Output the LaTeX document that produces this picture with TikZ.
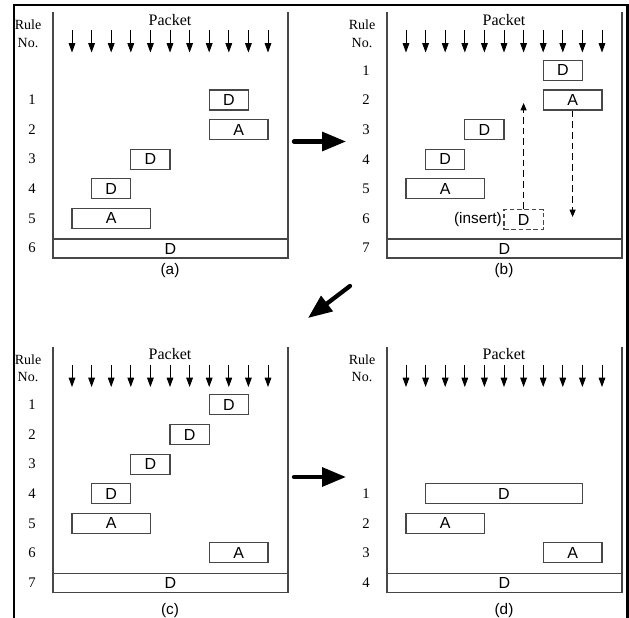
\documentclass[tikz,border=0pt]{standalone}
\usepackage{fontspec}
\setmainfont{Liberation Serif}
\newfontfamily\arialfont{Liberation Sans}
\usetikzlibrary{arrows.meta}

\tikzset{
  frameline/.style={line width=2.2pt, line cap=rect},
  panelline/.style={draw=black!72, line width=0.85pt},
  rbox/.style={draw=black!72, line width=0.85pt, minimum height=15pt, inner sep=0pt,
    font=\arialfont\fontsize{12}{12}\selectfont},
  dashbox/.style={rbox, dashed, dash pattern=on 3.5pt off 2pt},
  deflt/.style={rbox, minimum width=176.25pt, minimum height=14.25pt},
  seriflbl/.style={inner sep=0pt, font=\fontsize{10.5}{11}\selectfont},
  numlbl/.style={inner sep=0pt, font=\fontsize{11}{12}\selectfont},
  packetlbl/.style={inner sep=0pt, font=\fontsize{12}{13}\selectfont},
  captionlbl/.style={inner sep=0pt, font=\arialfont\fontsize{11.5}{12}\selectfont},
  pkarrow/.style={line width=0.6pt, -{Triangle[length=7pt, width=5pt]}},
  dasharrow/.style={line width=0.6pt, dashed, dash pattern=on 5pt off 3pt,
    -{Triangle[length=5.5pt, width=4.5pt]}},
  bigarrow/.style={line width=3.2pt, line cap=round, -{Triangle[length=18pt, width=14pt]}},
}

\newcommand{\panelbase}[4]{% #1 prefix, #2 rows, #3 caption, #4 caption y
  \draw[panelline] (53,12) -- (53,258) -- (288,258) -- (288,12);
  \node[deflt] (#1-def) at (170.5,248.5) {D};
  \node[seriflbl] (#1-rule) at (28,25) {Rule};
  \node[seriflbl] (#1-no) at (28,43) {No.};
  \node[packetlbl] (#1-pk) at (170,20) {Packet};
  \foreach \i in {0,...,10} {
    \coordinate (#1-t\i) at ({72+19.6*\i},30);
    \coordinate (#1-h\i) at ({72+19.6*\i},52.5);
    \draw[pkarrow] (#1-t\i) -- (#1-h\i);
  }
  \foreach \k in {1,...,#2} {
    \node[numlbl] (#1-n\k) at (32,{248-(#2-\k)*29.6}) {\k};
  }
  \node[captionlbl] (#1-cap) at (170,#4) {(#3)};
}
% name, col1, col2, row, rows, letter
\newcommand{\rulebox}[6]{%
  \node[rbox, minimum width={14.7pt*(#3-#2)}] (#1) at ({72+9.8*(#2+#3)},{248-(#5-#4)*29.6}) {#6};}

\begin{document}
\begin{tikzpicture}[x=0.75pt,y=-0.75pt]
\useasboundingbox (0,0) rectangle (629,618);

% outer frame (open at the bottom)
\draw[frameline] (14,620) -- (14,5) -- (627.5,5) -- (627.5,620);

% panel (a)
\begin{scope}
  \panelbase{a}{6}{a}{271}
  \rulebox{a-r1}{7}{9}{1}{6}{D}
  \rulebox{a-r2}{7}{10}{2}{6}{A}
  \rulebox{a-r3}{3}{5}{3}{6}{D}
  \rulebox{a-r4}{1}{3}{4}{6}{D}
  \rulebox{a-r5}{0}{4}{5}{6}{A}
\end{scope}

% panel (b)
\begin{scope}[shift={(334,0)}]
  \panelbase{b}{7}{b}{271}
  \rulebox{b-r1}{7}{9}{1}{7}{D}
  \rulebox{b-r2}{7}{10}{2}{7}{A}
  \rulebox{b-r3}{3}{5}{3}{7}{D}
  \rulebox{b-r4}{1}{3}{4}{7}{D}
  \rulebox{b-r5}{0}{4}{5}{7}{A}
  \node[dashbox, minimum width=29.4pt] (b-ins) at ({72+19.6*6},219.5) {D};
  \node[captionlbl, anchor=east] (b-inslbl) at ([xshift=-1pt]b-ins.west) {(insert)};
  \coordinate (b-uptip) at ({72+19.6*6},103);
  \draw[dasharrow] (b-ins.north) -- (b-uptip);
  \coordinate (b-dntip) at ({72+19.6*8.5},217);
  \draw[dasharrow] (b-r2.south) -- (b-dntip);
\end{scope}

% panel (c)
\begin{scope}[shift={(0,334.5)}]
  \panelbase{c}{7}{c}{276}
  \rulebox{c-r1}{7}{9}{1}{7}{D}
  \rulebox{c-r2}{5}{7}{2}{7}{D}
  \rulebox{c-r3}{3}{5}{3}{7}{D}
  \rulebox{c-r4}{1}{3}{4}{7}{D}
  \rulebox{c-r5}{0}{4}{5}{7}{A}
  \rulebox{c-r6}{7}{10}{6}{7}{A}
\end{scope}

% panel (d)
\begin{scope}[shift={(334,334.5)}]
  \panelbase{d}{4}{d}{276}
  \rulebox{d-r1}{1}{9}{1}{4}{D}
  \rulebox{d-r2}{0}{4}{2}{4}{A}
  \rulebox{d-r3}{7}{10}{3}{4}{A}
\end{scope}

% transition arrows
\coordinate (ab-s) at (294,141.5);
\coordinate (ab-e) at (346,141.5);
\draw[bigarrow] (ab-s) -- (ab-e);
\coordinate (bc-s) at (350,286);
\coordinate (bc-e) at (308,318);
\draw[bigarrow] (bc-s) -- (bc-e);
\coordinate (cd-s) at (294,477);
\coordinate (cd-e) at (346,477);
\draw[bigarrow] (cd-s) -- (cd-e);
\end{tikzpicture}
\end{document}
